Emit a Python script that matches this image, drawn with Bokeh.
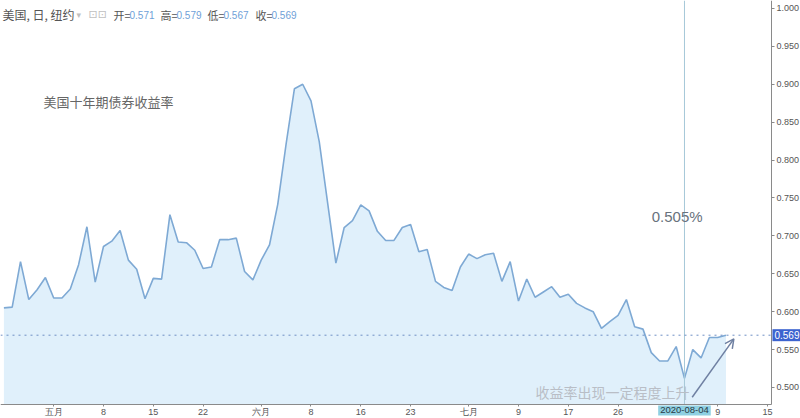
from bokeh.plotting import figure
from bokeh.models import (Range1d, FixedTicker, NumeralTickFormatter, Label,
                          Arrow, OpenHead, LinearAxis)
from bokeh.embed import file_html
from bokeh.resources import INLINE

# ---- data (US 10y treasury yield, daily close) ----
yields = [0.605, 0.606, 0.666, 0.616, 0.629, 0.645, 0.618, 0.618, 0.630, 0.662,
          0.712, 0.639, 0.686, 0.693, 0.707, 0.668, 0.656, 0.617, 0.644, 0.643,
          0.728, 0.692, 0.691, 0.681, 0.657, 0.659, 0.695, 0.695, 0.697, 0.653,
          0.642, 0.668, 0.688, 0.742, 0.821, 0.894, 0.900, 0.878, 0.824, 0.744,
          0.664, 0.711, 0.720, 0.741, 0.733, 0.706, 0.694, 0.694, 0.711, 0.715,
          0.679, 0.682, 0.640, 0.632, 0.628, 0.659, 0.676, 0.670, 0.675, 0.677,
          0.640, 0.666, 0.614, 0.643, 0.619, 0.626, 0.633, 0.619, 0.623, 0.611,
          0.605, 0.600, 0.578, 0.587, 0.595, 0.616, 0.580, 0.577, 0.546, 0.535,
          0.535, 0.554, 0.512, 0.550, 0.539, 0.566, 0.566, 0.569]
day_index = list(range(len(yields)))
tick_index = [6, 12, 18, 24, 31, 37, 43, 49, 56, 62, 68, 74, 86, 92]
tick_labels = ["五月", "8", "15", "22", "六月", "8", "16", "23", "七月", "9", "17", "26", "9", "15"]
y_ticks = [0.500, 0.550, 0.600, 0.650, 0.700, 0.750, 0.800, 0.850, 0.900, 0.950, 1.000]
last_close = 0.569
cross_index = 82
cross_date = "2020-08-04"
ohlc_names = ["开", "高", "低", "收"]
ohlc_values = [0.571, 0.579, 0.567, 0.569]
title_text = "美国十年期债券收益率"
low_text = "0.505%"
note_text = "收益率出现一定程度上升"

# view window (whole canvas is the frame; axes sit at fixed locations inside it)
X0, X1 = -0.41, 95.98
Y0, Y1 = 0.4591, 1.0105
AX_X = 92.48      # price-scale position
AX_Y = 0.4776     # time-scale position

CJK = "Noto Sans CJK SC"
NUM = "Liberation Sans"

p = figure(width=800, height=418, x_range=Range1d(X0, X1), y_range=Range1d(Y0, Y1),
           x_axis_location=None, y_axis_location=None,
           output_backend="svg", toolbar_location=None,
           min_border_left=0, min_border_top=0, min_border_right=0, min_border_bottom=0)
p.outline_line_color = None
p.background_fill_color = "white"
p.border_fill_color = "white"
p.xgrid.visible = False
p.ygrid.visible = False

p.varea(x=day_index, y1=AX_Y, y2=yields, fill_color="#e0f0fb", fill_alpha=1.0)
p.line(day_index, yields, line_color="#7ea9d4", line_width=1.6)

# crosshair and last-value line
p.segment(x0=[cross_index], y0=[AX_Y], x1=[cross_index], y1=[Y1],
          line_color="#a6c8d8", line_width=1)
p.segment(x0=[X0], y0=[last_close], x1=[AX_X], y1=[last_close],
          line_color="#6d8fc4", line_width=1, line_dash="dotted")

# axes
yax = LinearAxis(fixed_location=AX_X, bounds=(AX_Y, Y1),
                 ticker=FixedTicker(ticks=y_ticks),
                 formatter=NumeralTickFormatter(format="0.000"))
xax = LinearAxis(fixed_location=AX_Y, bounds=(X0, AX_X),
                 ticker=FixedTicker(ticks=tick_index),
                 major_label_overrides={t: lab for t, lab in zip(tick_index, tick_labels)})
for ax in (xax, yax):
    ax.axis_line_color = "#8a8a8a"
    ax.major_tick_line_color = "#8a8a8a"
    ax.major_tick_in = 0
    ax.minor_tick_line_color = None
    ax.major_label_text_color = "#555555"
    ax.major_label_text_font = NUM
    ax.major_label_text_font_size = "9px"
yax.major_tick_out = 3
yax.major_label_standoff = 2
xax.major_tick_out = 2
xax.major_label_standoff = 1
p.add_layout(yax, "right")
p.add_layout(xax, "below")

# header
p.add_layout(Label(x=X0, y=Y1, x_offset=2, y_offset=-14, text="美国, 日, 纽约",
                   text_font=CJK, text_font_size="12px", text_color="#555555",
                   text_baseline="middle"))
p.add_layout(Label(x=X0, y=Y1, x_offset=76, y_offset=-14, text="▾",
                   text_font="DejaVu Sans", text_font_size="9px", text_color="#c0c0c0",
                   text_baseline="middle"))
p.add_layout(Label(x=X0, y=Y1, x_offset=88, y_offset=-14, text="⊡⊡",
                   text_font="DejaVu Sans", text_font_size="11px", text_color="#c0c0c0",
                   text_baseline="middle"))
hx = [113, 160, 207, 255]
for name, val, x in zip(ohlc_names, ohlc_values, hx):
    p.add_layout(Label(x=X0, y=Y1, x_offset=x, y_offset=-14, text=name + "=",
                       text_font=CJK, text_font_size="11px", text_color="#555555",
                       text_baseline="middle"))
    p.add_layout(Label(x=X0, y=Y1, x_offset=x + 16, y_offset=-14, text=f"{val:.3f}",
                       text_font=NUM, text_font_size="10px", text_color="#6f9fd8",
                       text_baseline="middle"))

# annotations
p.add_layout(Label(x=4.77, y=0.8777, text=title_text, text_font=CJK, text_font_size="13px",
                   text_color="#666666", text_baseline="middle"))
p.add_layout(Label(x=81.12, y=0.7256, text=low_text, text_font=NUM, text_font_size="15px",
                   text_color="#68727d", text_baseline="middle", text_align="center"))
p.add_layout(Label(x=64.05, y=0.4934, text=note_text, text_font=CJK, text_font_size="14px",
                   text_color="#b9bec6", text_baseline="middle"))
p.add_layout(Arrow(end=OpenHead(size=9, line_color="#6f80a2", line_width=1.5),
                   x_start=82.93, y_start=0.4872, x_end=87.95, y_end=0.5642,
                   line_color="#6f80a2", line_width=1.5))

# scale value labels
p.add_layout(Label(x=AX_X, y=last_close, x_offset=1, text=f"{last_close:.3f}", text_font=NUM,
                   text_font_size="10px", text_color="white", text_baseline="middle",
                   background_fill_color="#3c63cf", padding=2))
p.add_layout(Label(x=cross_index, y=AX_Y, y_offset=-1, text=cross_date, text_font=NUM,
                   text_font_size="9.5px", text_color="#2a3a44", text_baseline="top",
                   text_align="center", background_fill_color="#8fd0e2", padding=2))

open("out.html", "w").write(file_html(p, INLINE))
